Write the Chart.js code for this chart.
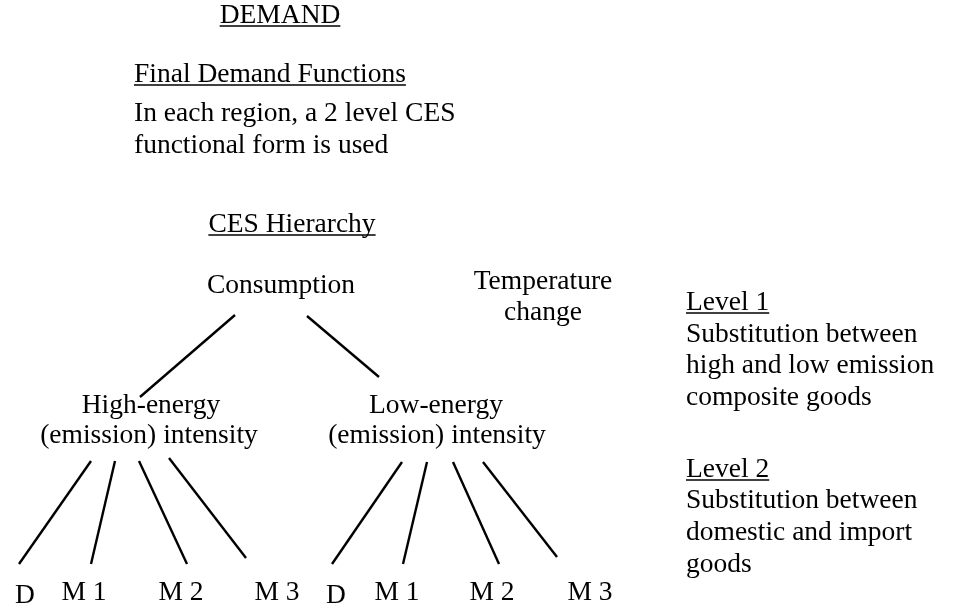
<!DOCTYPE html>
<html>
<head>
<meta charset="utf-8">
<script src="https://cdn.jsdelivr.net/npm/chart.js@4"></script>
<style>
  html, body { margin: 0; padding: 0; background: #fff; }
  #wrap { width: 954px; height: 613px; }
</style>
</head>
<body>
<div id="wrap"><canvas id="myChart"></canvas></div>
<script>
// tree content
const topNode = "Consumption";
const groupNodes = [["High-energy", "(emission) intensity"], ["Low-energy", "(emission) intensity"]];
const leafNodes = ["D", "M 1", "M 2", "M 3", "D", "M 1", "M 2", "M 3"];
const sideNode = ["Temperature", "change"];
const headings = ["DEMAND", "Final Demand Functions", "CES Hierarchy"];
const introText = ["In each region, a 2 level CES", "functional form is used"];
const level1Text = ["Level 1", "Substitution between", "high and low emission", "composite goods"];
const level2Text = ["Level 2", "Substitution between", "domestic and import", "goods"];

// branch segments, in diagram units (x right, y down)
const edgeX1 = [235, 307, 91, 115, 139, 169, 402, 427, 453, 483];
const edgeY1 = [315, 316, 461, 461, 461, 458, 462, 462, 462, 462];
const edgeX2 = [140, 379, 19, 91, 187, 246, 332, 403, 499, 557];
const edgeY2 = [397, 377, 564, 564, 564, 558, 564, 564, 564, 557];

// layout of the labels
const FONT = '27.5px "Liberation Serif", "Times New Roman", serif';
const labels = [];
function put(text, x, y, align, underline) {
  labels.push({ text: text, x: x, y: y, align: align || "center", underline: !!underline });
}
put(headings[0], 280, 23, "center", true);
put(headings[1], 134, 82, "left", true);
put(introText[0], 134, 121, "left");
put(introText[1], 134, 153, "left");
put(headings[2], 292, 232, "center", true);
put(topNode, 281, 293);
put(sideNode[0], 543, 289);
put(sideNode[1], 543, 320);
put(groupNodes[0][0], 151, 413);
put(groupNodes[0][1], 149, 443);
put(groupNodes[1][0], 436, 413);
put(groupNodes[1][1], 437, 443);
const leafX = [25, 84, 181, 277, 336, 397, 492, 590];
leafNodes.forEach(function (t, i) {
  put(t, leafX[i], t === "D" ? 603 : 600);
});
const sideY1 = [310, 342, 373, 405];
const sideY2 = [477, 508, 540, 572];
level1Text.forEach(function (t, i) { put(t, 686, sideY1[i], "left", i === 0); });
level2Text.forEach(function (t, i) { put(t, 686, sideY2[i], "left", i === 0); });

const datasets = edgeX1.map(function (x, i) {
  return {
    data: [{ x: x, y: edgeY1[i] }, { x: edgeX2[i], y: edgeY2[i] }],
    showLine: true,
    borderColor: "#000",
    borderWidth: 2.4,
    pointRadius: 0,
    pointHoverRadius: 0,
    fill: false,
  };
});

const textPlugin = {
  id: "diagramText",
  afterDatasetsDraw(chart) {
    const c = chart.ctx;
    const xs = chart.scales.x;
    const ys = chart.scales.y;
    c.save();
    c.font = FONT;
    c.fillStyle = "#000";
    c.strokeStyle = "#000";
    c.textBaseline = "alphabetic";
    labels.forEach(function (l) {
      const px = xs.getPixelForValue(l.x);
      const py = ys.getPixelForValue(l.y);
      c.textAlign = l.align;
      c.fillText(l.text, px, py);
      if (l.underline) {
        const w = c.measureText(l.text).width;
        const left = l.align === "center" ? px - w / 2 : px;
        c.lineWidth = 1.5;
        c.beginPath();
        c.moveTo(left, py + 3);
        c.lineTo(left + w, py + 3);
        c.stroke();
      }
    });
    c.restore();
  },
};

const ctx = document.getElementById("myChart");
new Chart(ctx, {
  type: "scatter",
  data: { datasets: datasets },
  options: {
    responsive: true,
    maintainAspectRatio: false,
    animation: false,
    events: [],
    layout: { padding: 0 },
    plugins: {
      legend: { display: false },
      tooltip: { enabled: false },
    },
    scales: {
      x: { type: "linear", min: 0, max: 954, display: false },
      y: { type: "linear", min: 0, max: 613, reverse: true, display: false },
    },
  },
  plugins: [textPlugin],
});
</script>
</body>
</html>
